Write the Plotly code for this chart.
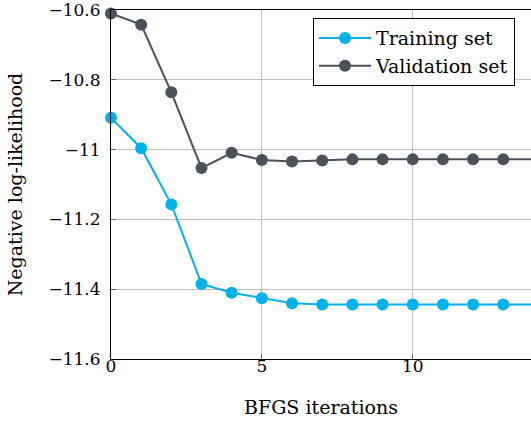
import plotly.graph_objects as go

iterations = list(range(15))
training = [-10.909, -10.996, -11.157, -11.385, -11.410, -11.426, -11.440,
            -11.444, -11.444, -11.444, -11.444, -11.444, -11.444, -11.444, -11.444]
validation = [-10.610, -10.642, -10.836, -11.053, -11.009, -11.030, -11.034,
              -11.031, -11.028, -11.028, -11.028, -11.028, -11.028, -11.028, -11.028]
x_ticks = [0, 5, 10]
y_ticks = [-11.6, -11.4, -11.2, -11.0, -10.8, -10.6]
y_tick_text = ["−11.6", "−11.4", "−11.2", "−11", "−10.8", "−10.6"]

FONT = "DejaVu Serif"
FS = 19
TICK_FS = 17
cyan = "#00B1EB"
gray = "#4A515A"

fig = go.Figure()
fig.add_trace(go.Scatter(x=iterations, y=training, mode="lines+markers", name="Training set",
                         line=dict(color=cyan, width=2), marker=dict(size=12, color=cyan),
                         cliponaxis=False))
fig.add_trace(go.Scatter(x=iterations, y=validation, mode="lines+markers", name="Validation set",
                         line=dict(color=gray, width=2), marker=dict(size=12, color=gray),
                         cliponaxis=False))

fig.update_layout(
    width=531, height=423,
    margin=dict(l=111, r=0, t=8, b=64),
    plot_bgcolor="white", paper_bgcolor="white",
    font=dict(family=FONT, size=FS, color="black"),
    showlegend=True,
    legend=dict(x=0.481, y=0.9765, xanchor="left", yanchor="top",
                bordercolor="black", borderwidth=1, bgcolor="white",
                font=dict(family=FONT, size=FS), tracegroupgap=0, itemwidth=52),
)
fig.update_xaxes(range=[0, 13.92], tickvals=x_ticks, showgrid=True, gridcolor="#BEBEBE",
                 gridwidth=1, showline=True, linecolor="black", linewidth=1, mirror=True,
                 ticks="inside", ticklen=5, tickcolor="#666", zeroline=False,
                 ticklabelstandoff=-8,
                 title=dict(text="BFGS iterations", font=dict(family=FONT, size=FS), standoff=25),
                 tickfont=dict(family=FONT, size=TICK_FS))
fig.update_yaxes(range=[-11.6, -10.6], tickvals=y_ticks, ticktext=y_tick_text, showgrid=True,
                 gridcolor="#BEBEBE", gridwidth=1, showline=True, linecolor="black", linewidth=1,
                 ticks="inside", ticklen=5, tickcolor="#666", zeroline=False,
                 ticklabeloverflow="allow", ticklabelstandoff=6,
                 title=dict(text="Negative log-likelihood", font=dict(family=FONT, size=FS), standoff=20),
                 tickfont=dict(family=FONT, size=TICK_FS))

fig.write_html("out.html", config={"displayModeBar": False},
               post_script="document.body.style.margin='0';")
